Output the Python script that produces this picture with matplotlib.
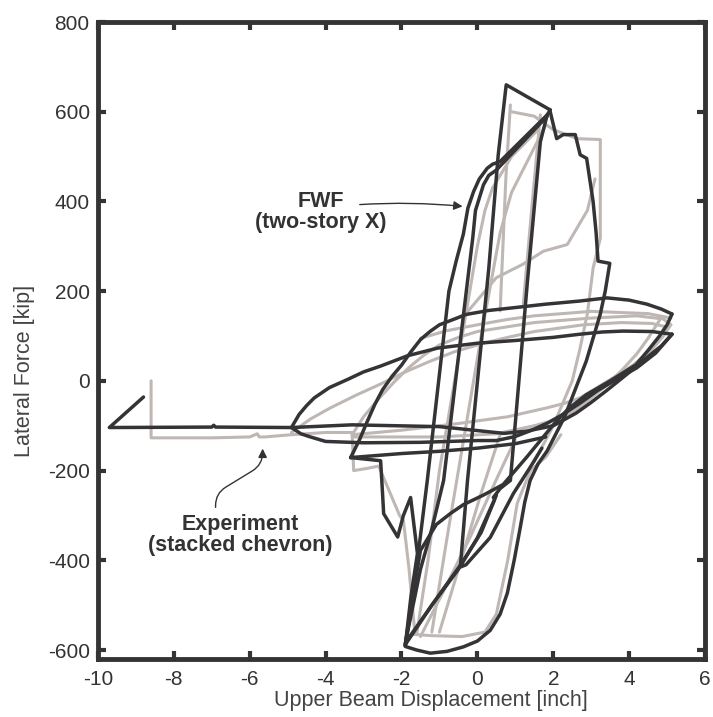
import matplotlib
matplotlib.use("Agg")
import matplotlib.pyplot as plt

plt.rcParams['font.family'] = ['Liberation Sans', 'DejaVu Sans']
plt.rcParams['axes.unicode_minus'] = False

# ---------------- data ----------------
x_ticks = [-10, -8, -6, -4, -2, 0, 2, 4, 6]
y_ticks = [-600, -400, -200, 0, 200, 400, 600, 800]

# FWF (two-story X) - dark curves
fwf_0_x = [5.13, 4.85, 4.45, 3.9, 3.4, 3.0, 2.6, 2.0, 1.3, 0.7, -1.0, -3.3, -4.9, -6.9, -6.95, -7.0, -9.7, -8.8]
fwf_0_y = [104, 78, 51, 12, -22, -48, -72, -100, -112, -117, -102, -98, -104, -103, -99, -103, -104, -36]
fwf_1_x = [-4.9, -4.7, -4.5, -4.3, -3.9, -3.4, -3.0, -2.55, -1.84, -1.05, 0.0, 1.0, 2.0, 2.7, 3.3, 3.84, 4.6, 5.13]
fwf_1_y = [-104, -75, -55, -38, -15, 4, 20, 33, 56, 73, 84, 90, 97, 104, 109, 111, 110, 104]
fwf_2_x = [-4.9, -4.65, -4.4, -4.0, -3.0, -1.5, 0.0, 0.5, 1.0, 1.4, 1.85, 2.27, 2.7, 3.16, 3.7, 4.2, 4.7, 5.13]
fwf_2_y = [-104, -118, -125, -135, -138, -137, -133, -133, -124, -111, -94, -74, -50, -22, 5, 29, 62, 104]
fwf_3_x = [-3.34, -3.1, -2.9, -2.7, -2.5, -2.25, -2.0, -1.75, -1.5, -1.25, -1.0, -0.6, -0.3, 0.3, 0.95, 1.8,
           2.7, 3.42, 4.0, 4.47, 4.85, 5.13]
fwf_3_y = [-171, -130, -90, -52, -20, 10, 35, 65, 92, 110, 125, 138, 148, 157, 163, 171,
           178, 185, 180, 171, 160, 149]
fwf_4_x = [5.13, 5.0, 4.8, 4.5, 4.18, 3.5, 2.87, 2.4, 2.0, 1.3, 0.68, 0.15, -0.37, -0.7, -1.08, -1.5, -1.7, -1.9]
fwf_4_y = [149, 125, 100, 68, 36, 0, -31, -62, -98, -170, -231, -255, -276, -295, -320, -378, -480, -590]
fwf_5_x = [-3.34, -2.55, -2.5, -2.47, -2.1, -1.95, -1.76, -1.58, -1.75, -1.9]
fwf_5_y = [-171, -178, -250, -296, -348, -300, -260, -385, -480, -590]
fwf_6_x = [-1.9, -1.58, -1.32, -0.75, -0.55, -0.37, -0.25, -0.1, 0.05, 0.26, 0.4, 0.6, 1.84]
fwf_6_y = [-590, -400, -222, 200, 270, 327, 385, 422, 450, 474, 483, 489, 593]
fwf_7_x = [-1.9, -1.5, -1.2, -0.89, -0.26, -0.12, -0.05, 0.16, 0.3, 0.5, 1.84]
fwf_7_y = [-585, -420, -330, -222, 222, 320, 380, 437, 458, 470, 590]
fwf_8_x = [1.92, 0.76, 0.55, 0.3, -0.26, -0.45, -0.3, 0.34, 0.95, 1.39, 1.7]
fwf_8_y = [604, 660, 504, 250, -222, -415, -410, -349, -251, -193, -150]
fwf_9_x = [0.42, 0.6, 0.87, 1.32, 1.66, 1.84, 1.92]
fwf_9_y = [-260, -240, -222, 222, 533, 593, 604]
fwf_10_x = [1.92, 2.09, 2.26, 2.58, 2.71, 2.88, 3.05, 3.13, 3.18, 3.49, 3.37, 3.24, 2.87, 2.3, 1.84,
            1.6, 1.39, 1.25, 1.13, 0.97, 0.79, 0.6, 0.34, 0.0, -0.37, -0.8, -1.24, -1.6, -1.9]
fwf_10_y = [600, 540, 549, 549, 504, 496, 400, 330, 267, 262, 200, 149, 44, -80, -156,
            -185, -222, -270, -327, -400, -473, -520, -556, -580, -593, -603, -607, -600, -592]
fwf_11_x = [-1.9, -1.2, -0.5, 0.0, 0.45]
fwf_11_y = [-588, -500, -420, -350, -265]
fwf_12_x = [-1.85, -1.1, -0.4, 0.1, 0.5]
fwf_12_y = [-578, -488, -405, -338, -255]
fwf_13_x = [-3.34, -2.0, -1.0, 0.0, 1.0, 1.8]
fwf_13_y = [-171, -162, -157, -150, -140, -125]

# Experiment (stacked chevron) - light curves
exp_0_x = [-8.6, -8.6, -7.0, -6.0, -5.8, -5.75, -5.6, -4.9, -4.0, -3.3]
exp_0_y = [0, -127, -127, -125, -118, -125, -125, -120, -115, -115]
exp_1_x = [-4.9, -4.4, -3.87, -3.2, -2.55, -1.9, -1.24, -0.6, 0.08, 0.8, 1.5, 2.8, 3.8, 4.6, 5.0]
exp_1_y = [-115, -85, -60, -32, -7, 20, 44, 65, 82, 97, 110, 125, 130, 128, 120]
exp_2_x = [-3.3, -3.0, -2.6, -2.2, -1.8, -1.4, -1.0, -0.5, 0.0, 1.5, 3.0, 4.2, 4.9, 5.1]
exp_2_y = [-120, -80, -40, -3, 30, 58, 80, 97, 110, 130, 140, 145, 138, 125]
exp_3_x = [5.1, 4.9, 4.6, 4.1, 3.58, 3.1, 2.7, 2.3, 1.84, 0.8, -0.5, -2.0, -3.3]
exp_3_y = [125, 100, 70, 35, 7, -18, -38, -50, -60, -80, -95, -110, -120]
exp_4_x = [4.8, 4.5, 4.2, 3.8, 3.4, 2.9, 2.5, 2.0, 1.5, 0.5, -1.0, -2.5, -3.3]
exp_4_y = [135, 95, 60, 23, -10, -45, -70, -88, -100, -118, -125, -125, -125]
exp_5_x = [-1.5, -0.8, 0.0, 0.8, 1.5, 3.0, 4.5, 5.1]
exp_5_y = [95, 112, 125, 137, 145, 155, 150, 140]
exp_6_x = [-1.6, -1.3, -1.0, -0.5, 0.0, 0.2, 0.4, 0.9, 1.6]
exp_6_y = [-565, -400, -200, 50, 300, 380, 430, 500, 560]
exp_7_x = [-1.2, -0.8, -0.4, 0.1, 0.6, 0.9, 1.2, 1.8]
exp_7_y = [-560, -350, -150, 100, 330, 420, 470, 570]
exp_8_x = [0.9, 1.5, 2.0, 2.63, 3.24, 3.24, 3.05, 2.9, 2.7, 2.5, 2.0, 1.5]
exp_8_y = [600, 590, 560, 540, 538, 318, 251, 150, 70, 0, -100, -180]
exp_9_x = [2.2, 1.8, 1.4, 1.05, 0.8, 0.5, 0.2, -0.4, -1.2, -1.7]
exp_9_y = [-120, -170, -200, -273, -400, -520, -560, -570, -568, -565]
exp_10_x = [-3.3, -3.26, -2.9, -2.6, -2.3, -2.05, -1.95, -1.8, -1.65]
exp_10_y = [-120, -200, -195, -190, -250, -300, -311, -420, -560]
exp_11_x = [-0.3, 0.5, 1.2, 1.74, 2.37, 2.9, 3.1]
exp_11_y = [150, 230, 260, 289, 304, 380, 450]
exp_12_x = [0.6, 0.75, 0.87]
exp_12_y = [156, 450, 615]
exp_13_x = [1.21, 1.45, 1.66]
exp_13_y = [171, 400, 593]
exp_14_x = [-1.5, -0.9, -0.2, 0.5, 1.0]
exp_14_y = [-570, -470, -350, -220, -130]
exp_15_x = [-1.0, -0.5, 0.1, 0.6]
exp_15_y = [-560, -420, -250, -120]

fwf_paths = [(fwf_0_x, fwf_0_y), (fwf_1_x, fwf_1_y), (fwf_2_x, fwf_2_y), (fwf_3_x, fwf_3_y),
             (fwf_4_x, fwf_4_y), (fwf_5_x, fwf_5_y), (fwf_6_x, fwf_6_y), (fwf_7_x, fwf_7_y),
             (fwf_8_x, fwf_8_y), (fwf_9_x, fwf_9_y), (fwf_10_x, fwf_10_y), (fwf_11_x, fwf_11_y),
             (fwf_12_x, fwf_12_y), (fwf_13_x, fwf_13_y)]
exp_paths = [(exp_0_x, exp_0_y), (exp_1_x, exp_1_y), (exp_2_x, exp_2_y), (exp_3_x, exp_3_y),
             (exp_4_x, exp_4_y), (exp_5_x, exp_5_y), (exp_6_x, exp_6_y), (exp_7_x, exp_7_y),
             (exp_8_x, exp_8_y), (exp_9_x, exp_9_y), (exp_10_x, exp_10_y), (exp_11_x, exp_11_y),
             (exp_12_x, exp_12_y), (exp_13_x, exp_13_y), (exp_14_x, exp_14_y), (exp_15_x, exp_15_y)]

# ---------------- figure ----------------
fig = plt.figure(figsize=(7.13, 7.17), dpi=100)
ax = fig.add_axes([0.1374, 0.0809, 0.8514, 0.8884])

light = '#bfb7b4'
dark = '#343436'
for px, py in exp_paths:
    ax.plot(px, py, color=light, lw=2.2, solid_joinstyle='round', solid_capstyle='round', zorder=1)
for px, py in fwf_paths:
    ax.plot(px, py, color=dark, lw=2.5, solid_joinstyle='round', solid_capstyle='round', zorder=2)

ax.set_xlim(-10, 6)
ax.set_ylim(-620, 800)
ax.set_xticks(x_ticks)
ax.set_yticks(y_ticks)
ax.tick_params(direction='in', length=6, width=3, color=dark, labelsize=15,
               labelcolor='#333333', top=True, right=True)
ax.tick_params(axis='x', pad=8)
ax.tick_params(axis='y', pad=6)
for s in ax.spines.values():
    s.set_linewidth(3.5)
    s.set_color(dark)

ax.set_xlabel('Upper Beam Displacement [inch]', fontsize=15.5, color='#444444')
ax.set_ylabel('Lateral Force [kip]', fontsize=15.5, color='#444444')
ax.xaxis.set_label_coords(0.549, -0.048)
ax.yaxis.set_label_coords(-0.104, 0.452)

ax.text(-4.13, 376, 'FWF\n(two-story X)', ha='center', va='center', fontsize=15.5,
        fontweight='bold', color='#333333', linespacing=1.0)
ax.annotate('', xy=(-0.39, 389), xytext=(-3.1, 393),
            arrowprops=dict(arrowstyle='-|>', color='#333333', lw=1.0,
                            shrinkA=0, shrinkB=0, mutation_scale=13,
                            connectionstyle='arc3,rad=-0.04'))
ax.text(-6.24, -344, 'Experiment\n(stacked chevron)', ha='center', va='center', fontsize=15.5,
        fontweight='bold', color='#333333', linespacing=1.0)
ax.annotate('', xy=(-5.66, -151), xytext=(-6.9, -282),
            arrowprops=dict(arrowstyle='-|>', color='#333333', lw=1.0,
                            shrinkA=0, shrinkB=0, mutation_scale=13,
                            connectionstyle='arc,angleA=90,angleB=-90,armA=14,armB=16,rad=12'))

fig.savefig('out.png', dpi=100)
